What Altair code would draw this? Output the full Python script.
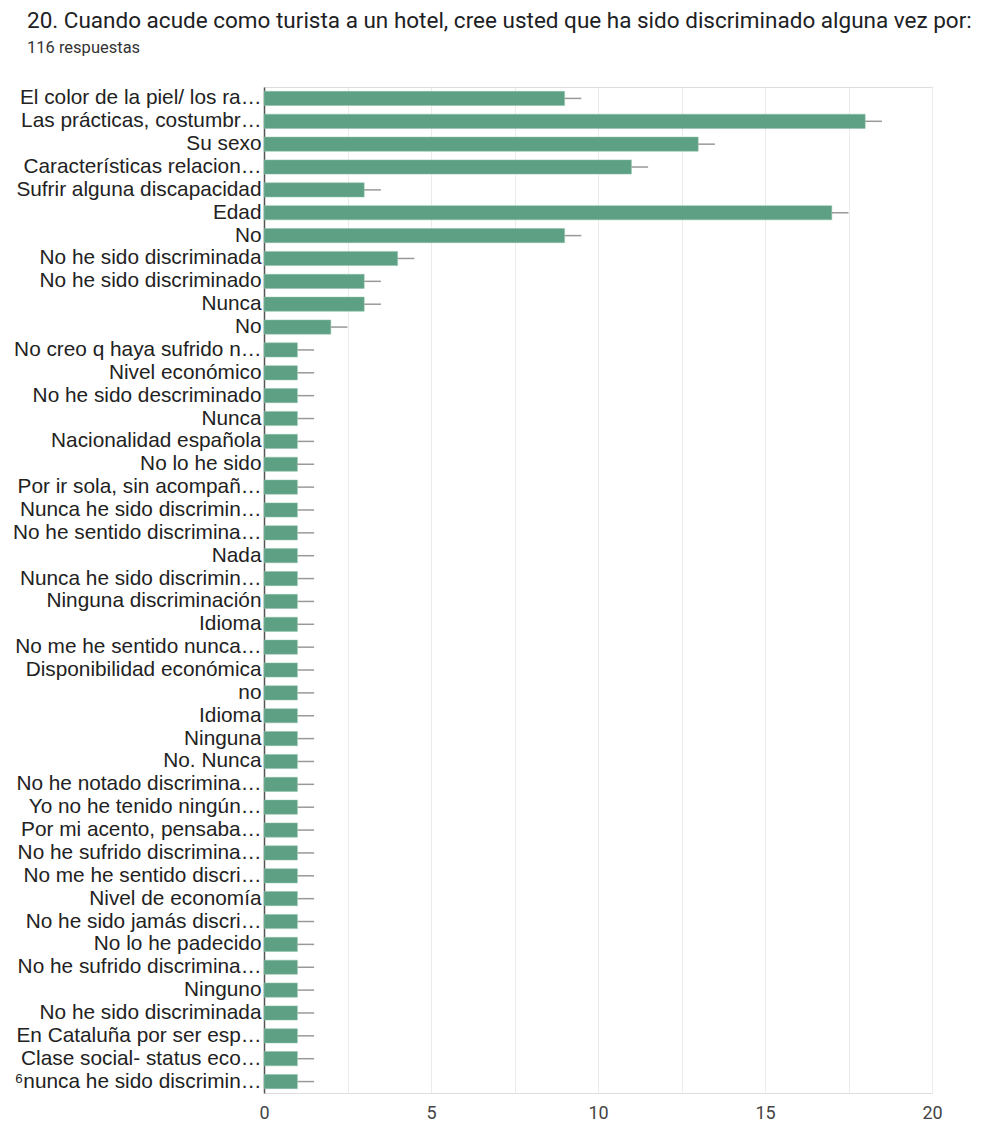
import json
import altair as alt
import pandas as pd

labels = [
    "El color de la piel/ los ra…",
    "Las prácticas, costumbr…",
    "Su sexo",
    "Características relacion…",
    "Sufrir alguna discapacidad",
    "Edad",
    "No",
    "No he sido discriminada",
    "No he sido discriminado",
    "Nunca",
    "No",
    "No creo q haya sufrido n…",
    "Nivel económico",
    "No he sido descriminado",
    "Nunca",
    "Nacionalidad española",
    "No lo he sido",
    "Por ir sola, sin acompañ…",
    "Nunca he sido discrimin…",
    "No he sentido discrimina…",
    "Nada",
    "Nunca he sido discrimin…",
    "Ninguna discriminación",
    "Idioma",
    "No me he sentido nunca…",
    "Disponibilidad económica",
    "no",
    "Idioma",
    "Ninguna",
    "No. Nunca",
    "No he notado discrimina…",
    "Yo no he tenido ningún…",
    "Por mi acento, pensaba…",
    "No he sufrido discrimina…",
    "No me he sentido discri…",
    "Nivel de economía",
    "No he sido jamás discri…",
    "No lo he padecido",
    "No he sufrido discrimina…",
    "Ninguno",
    "No he sido discriminada",
    "En Cataluña por ser esp…",
    "Clase social- status eco…",
    "⁶nunca he sido discrimin…",
]
values = [9, 18, 13, 11, 3, 17, 9, 4, 3, 3, 2] + [1] * 33
x_ticks = [0, 2.5, 5, 7.5, 10, 12.5, 15, 17.5, 20]

df = pd.DataFrame({"idx": list(range(len(labels))), "label": labels, "value": values})
df["err"] = df["value"] + 0.5

label_expr = json.dumps(labels, ensure_ascii=False) + "[datum.value]"

y_enc = alt.Y(
    "idx:O",
    sort="ascending",
    title=None,
    scale=alt.Scale(paddingInner=0.38, paddingOuter=0.19),
    axis=alt.Axis(
        labelExpr=label_expr,
        labelFont="Liberation Sans",
        labelFontSize=20.8,
        labelColor="#222222",
        labelPadding=3,
        ticks=False,
        domainColor="#555555",
        domainWidth=1.5,
        labelLimit=300,
    ),
)

x_scale = alt.Scale(domain=[0, 20], nice=False)

bars = alt.Chart(df).mark_bar(color="#5ea084", stroke="#8cc0a8", strokeWidth=0.5).encode(
    x=alt.X(
        "value:Q",
        scale=x_scale,
        title=None,
        axis=alt.Axis(
            values=x_ticks,
            labelExpr="datum.value % 5 == 0 ? datum.label : ''",
            labelFont="Roboto",
            labelFontSize=18,
            labelColor="#444444",
            labelPadding=11,
            labelFlush=False,
            ticks=False,
            domain=False,
            gridColor="#ebebeb",
            gridWidth=1,
        ),
    ),
    y=y_enc,
)

errs = alt.Chart(df).mark_rule(color="#999999", strokeWidth=1.5).encode(
    x=alt.X("value:Q", scale=x_scale),
    x2="err:Q",
    y=alt.Y("idx:O", sort="ascending"),
)

chart = (
    alt.layer(bars, errs)
    .properties(
        width=668,
        height=1006,
        title=alt.TitleParams(
            text="20. Cuando acude como turista a un hotel, cree usted que ha sido discriminado alguna vez por:",
            subtitle="116 respuestas",
            anchor="start",
            frame="group",
            dx=-237,
            offset=30,
            font="Roboto",
            fontSize=22.5,
            fontWeight="normal",
            color="#202124",
            subtitleFont="Roboto",
            subtitleFontSize=16.5,
            subtitleColor="#333333",
            subtitlePadding=8,
        ),
        autosize=alt.AutoSizeParams(type="none"),
        padding={"left": 264, "top": 87, "right": 66, "bottom": 31},
    )
    .configure_view(stroke="#e6e6e6", strokeWidth=1.5)
    .configure(background="white")
)

chart.save("out.html", embed_options={"renderer": "svg", "actions": False})
